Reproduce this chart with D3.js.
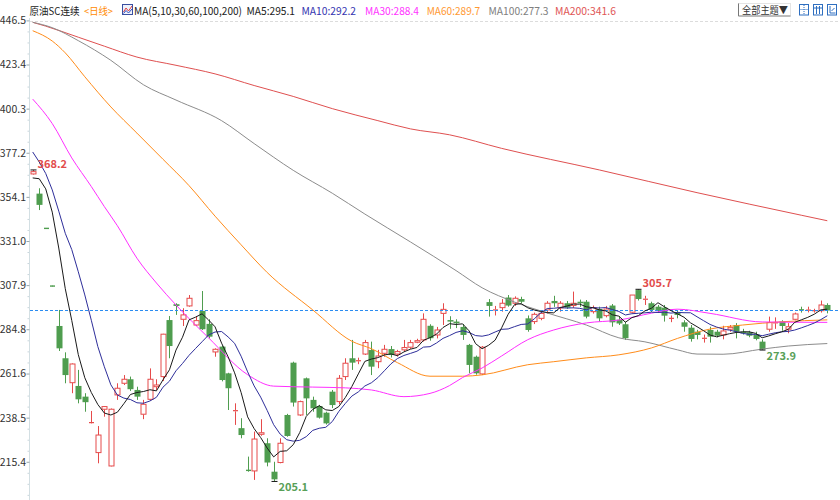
<!DOCTYPE html>
<html><head><meta charset="utf-8">
<script src="https://cdn.jsdelivr.net/npm/d3@7"></script>
<style>
body{margin:0;background:#fff}
svg{display:block;font-family:"Noto Sans CJK SC","Microsoft YaHei",sans-serif}
</style></head>
<body><svg id="c" width="840" height="500"></svg>
<script>
// ---------------- data ----------------
const opens = [366.1,355.8,337.8,307.6,286.5,269.6,256.8,255.1,249.5,235.6,
220.2,242.9,213.2,250.4,256.5,258.6,253.0,240.3,248.1,254.7,
260.0,289.6,297.9,290.0,297.0,287.0,294.4,287.6,272.9,275.7,
261.7,241.8,233.0,211.2,210.6,229.8,225.1,210.2,215.0,239.9,
267.3,239.9,259.1,247.8,244.6,241.1,252.1,246.9,260.0,269.6,
268.0,271.8,273.9,267.8,272.2,274.4,271.8,274.0,275.4,278.0,
279.2,286.6,281.8,293.1,289.6,288.8,286.0,276.6,270.4,261.4,
299.0,294.6,296.1,301.4,298.4,300.6,290.5,288.8,290.5,294.9,
299.6,296.0,298.4,297.2,299.2,299.2,294.0,295.4,291.9,297.2,
289.8,287.4,293.7,305.3,300.2,298.4,296.6,296.1,290.3,293.3,
288.4,285.6,283.5,279.8,284.4,283.5,281.8,284.8,287.0,283.5,
283.2,282.1,278.3,284.8,287.9,288.8,284.8,290.0,295.2,294.6,
294.3,294.5,297.5];
const highs = [368.2,358.6,337.8,307.6,294.9,272.7,266.9,263.5,251.3,242.0,
234.1,244.6,243.3,256.5,260.8,260.0,254.7,247.8,264.3,258.6,
282.4,291.7,298.4,295.8,302.7,291.7,304.8,290.0,274.8,276.2,
262.0,246.0,238.2,218.1,231.2,237.7,227.7,215.4,227.7,240.5,
267.8,247.4,259.5,249.5,245.2,241.6,253.0,260.8,269.6,279.2,
269.9,279.2,278.3,274.0,276.6,276.0,274.0,279.2,279.2,279.8,
293.1,287.4,286.0,298.4,291.6,290.0,287.5,277.1,271.0,276.0,
300.6,297.0,300.6,302.7,302.0,301.8,292.0,293.5,293.6,299.5,
302.3,299.5,299.6,304.5,300.3,300.1,297.2,296.6,297.0,298.0,
291.6,288.8,302.7,305.7,302.3,299.2,297.5,297.5,292.0,294.9,
289.5,287.0,284.5,282.0,286.1,284.5,286.6,287.0,288.0,285.0,
284.0,283.5,279.5,291.4,291.0,289.5,288.0,293.5,296.6,296.6,
295.5,299.8,298.4];
const lows = [365.8,347.2,337.4,307.2,273.4,256.5,251.3,246.0,241.6,235.4,
214.6,239.0,213.0,247.8,255.6,252.5,247.8,237.7,247.4,253.0,
257.7,269.6,292.3,286.5,296.6,286.5,284.4,280.0,270.4,257.5,
242.5,234.7,227.7,210.2,205.9,229.0,213.0,205.1,214.6,228.5,
244.3,239.4,239.9,241.6,238.0,234.9,243.5,245.5,258.2,263.5,
266.5,271.3,260.8,264.4,270.4,270.0,270.5,273.1,274.5,277.5,
278.3,278.8,280.0,287.0,285.0,285.4,279.2,261.7,261.0,260.8,
291.4,292.0,294.0,296.6,297.0,298.4,283.5,287.5,289.5,293.0,
296.5,294.0,295.5,296.0,296.5,290.5,293.0,288.8,291.0,286.1,
287.0,279.2,293.2,299.8,297.5,293.8,293.5,288.8,288.5,290.5,
283.5,278.3,279.5,277.8,277.8,280.5,279.5,283.5,280.0,282.0,
280.6,279.0,273.9,283.5,285.0,284.0,282.7,289.5,293.5,293.6,
293.5,293.5,293.1];
const closes = [367.3,349.9,337.4,307.2,274.8,260.8,266.6,248.1,246.6,236.2,
229.4,244.3,242.9,253.9,258.6,253.4,249.5,245.5,258.6,255.6,
282.2,276.0,297.0,292.3,301.0,289.3,284.8,280.9,274.3,258.2,
253.9,242.5,229.4,210.6,227.3,230.6,215.0,206.2,225.1,228.9,
246.4,246.9,248.6,243.4,238.5,235.5,245.1,259.1,267.0,267.3,
268.6,277.8,265.2,270.8,274.3,271.3,273.1,275.2,277.8,278.8,
290.0,280.1,284.4,295.2,288.8,287.9,281.8,266.1,261.7,275.4,
297.0,295.2,298.4,297.2,301.0,299.2,284.4,292.6,293.1,298.4,
298.4,298.4,296.1,298.4,298.4,291.4,296.1,290.5,295.4,288.4,
287.8,280.1,302.7,300.6,300.8,294.9,294.4,291.9,290.7,292.3,
286.1,279.7,281.8,280.3,280.9,281.4,283.9,285.8,283.5,282.7,
281.4,279.7,274.3,288.3,288.4,286.5,286.1,292.8,294.7,295.0,
294.7,297.5,294.6];
// closes of the 9 sessions before the first visible candle (estimated)
const prevCloses = [402,398,393,386,376.9,352,364,368,368.8];

// long moving averages: candle index -> value
const ma30Idx = [0,3,6,9,11,13,16,19,22,27,33,37,43,48,52,57,61,64,66,69,72,76,80,85,90,95,99,104,112,122];
const ma30Val = [405.3,392.5,374.5,359.5,349,339,322,309,297.5,280.3,261,255,254.5,254.1,253.0,249.5,251.2,255.3,259.5,264.5,270.8,279.3,284.4,288.1,289.6,293.2,295.3,293.1,288.6,288.4];
const ma60Idx = [0,3,5,8,12,16,20,24,28,32,36,43,49,52,56,61,66,69,76,80,85,90,95,99,104,109,115,122];
const ma60Val = [441.1,435.7,429.5,417,401.2,387.5,373.8,360,344,329,314.5,294.9,278.5,274.6,267.3,260.2,260.2,260.9,266.2,267.8,269.8,271.4,275.0,280.0,284.9,287.0,288.7,289.7];
const ma100Idx = [0,3,7,12,17,22,29,34,40,46,51,58,65,69,74,79,85,90,94,99,102,106,112,116,122];
const ma100Val = [445.5,442.7,435.9,425.6,412.8,404.8,394.0,382.0,368.0,356.0,345.1,330.5,315.5,306.5,299.0,293.3,287.0,280.3,278.2,274.0,271.8,271.7,274.4,276.0,277.3];
const ma200Idx = [0,2,7,11,16,22,28,34,40,46,53,58,64,72,87,102,118,122];
const ma200Val = [445.5,443.5,437.7,433.0,427.3,423.0,418.5,412.4,406.7,400.3,394.0,389.7,386.6,379.5,368.2,356.3,344.5,341.6];

const yTicks = [446.5,423.4,400.3,377.2,354.1,331.0,307.9,284.8,261.6,238.5,215.4];
const legendNames = ["MA5","MA10","MA30","MA60","MA100","MA200"];
const legendValues = [295.1,292.2,288.4,289.7,277.3,341.6];
const markIdx = [0,37,93,112];
const markType = ["high","low","high","low"];

// ---------------- drawing ----------------
const UP = "#e64a4a", DOWN = "#4f9d4f";
const maColors = ["#1a1a1a","#2e2e9a","#ff2eff","#ff8c1a","#8c8c8c","#df5050"];
const legendColors = ["#222","#3434b0","#ff33ff","#ff9933","#808080","#e05555"];

const svg = d3.select("#c");
const x = d3.scaleLinear().domain([0, closes.length - 1]).range([32.7, 827.3]);
const y = d3.scaleLinear().domain([198.0, 446.5]).range([495, 20.4]);

// top dashed border
svg.append("line").attr("x1",30).attr("x2",840).attr("y1",21.5).attr("y2",21.5)
  .attr("stroke","#dcdcdc").attr("stroke-dasharray","3,2");

// y axis
const minorTicks = [];
for (let k = 0; k < yTicks.length - 1; k++) {
  for (let q = 1; q < 4; q++) minorTicks.push(yTicks[k] + (yTicks[k+1]-yTicks[k]) * q / 4);
}
for (let q = 1; q < 4; q++) minorTicks.push(215.4 - 23.1 * q / 4);
const gMinor = svg.append("g").attr("transform","translate(29.5,0)")
  .call(d3.axisLeft(y).tickValues(minorTicks).tickSize(2).tickFormat(""));
gMinor.select(".domain").remove();
gMinor.selectAll("line").attr("stroke","#c9d6dc");
const gAxis = svg.append("g").attr("transform","translate(29.5,0)")
  .call(d3.axisLeft(y).tickValues(yTicks).tickSize(3).tickPadding(0.5).tickFormat(d3.format(".1f")));
gAxis.select(".domain").attr("stroke","#d3dfe3").attr("d","M0,18V500");
gAxis.selectAll("line").attr("stroke","#9aa8ad");
gAxis.selectAll("text").attr("fill","#333").style("font-size","10.5px")
  .style("font-family",'"Noto Sans CJK SC",sans-serif');

// candles
const bw = 5;
const gC = svg.append("g");
closes.forEach((c, i) => {
  const o = opens[i], h = highs[i], l = lows[i];
  const cx = Math.round(x(i)) + 0.5;
  const up = c >= o;
  const top = y(Math.max(o, c)), bot = y(Math.min(o, c));
  if (up) {
    if (y(h) < top) gC.append("line").attr("x1",cx).attr("x2",cx).attr("y1",y(h)).attr("y2",top).attr("stroke",UP);
    if (y(l) > bot) gC.append("line").attr("x1",cx).attr("x2",cx).attr("y1",bot).attr("y2",y(l)).attr("stroke",UP);
    if (bot - top < 1.5) {
      gC.append("line").attr("x1",cx-2.5).attr("x2",cx+2.5).attr("y1",(top+bot)/2).attr("y2",(top+bot)/2).attr("stroke",UP).attr("stroke-width",1.2);
    } else {
      gC.append("rect").attr("x",cx-2.5).attr("y",top).attr("width",bw).attr("height",bot-top)
        .attr("fill","#fff").attr("stroke",UP);
    }
  } else {
    gC.append("line").attr("x1",cx).attr("x2",cx).attr("y1",y(h)).attr("y2",y(l)).attr("stroke",DOWN);
    if (bot - top < 1.5) {
      gC.append("line").attr("x1",cx-2.5).attr("x2",cx+2.5).attr("y1",(top+bot)/2).attr("y2",(top+bot)/2).attr("stroke",DOWN).attr("stroke-width",1.4);
    } else {
      gC.append("rect").attr("x",cx-3).attr("y",top).attr("width",bw+1).attr("height",bot-top).attr("fill",DOWN);
    }
  }
});

// current price dashed line
svg.append("line").attr("x1",30).attr("x2",840)
  .attr("y1",y(closes[closes.length-1])).attr("y2",y(closes[closes.length-1]))
  .attr("stroke","#2b8cf0").attr("stroke-dasharray","3,2");

// moving averages
const allCloses = prevCloses.concat(closes);
function sma(n) {
  return closes.map((_, i) => {
    const j = i + prevCloses.length;
    return {i, v: d3.mean(allCloses.slice(j - n + 1, j + 1))};
  });
}
const zip = (idx, val) => idx.map((d, k) => ({i: d, v: val[k]}));
const lineLin = d3.line().x(d => x(d.i)).y(d => y(d.v));
const lineSm = d3.line().x(d => x(d.i)).y(d => y(d.v)).curve(d3.curveMonotoneX);
const series = [
  {d: zip(ma200Idx, ma200Val), c: maColors[5], gen: lineSm},
  {d: zip(ma100Idx, ma100Val), c: maColors[4], gen: lineSm},
  {d: zip(ma60Idx, ma60Val), c: maColors[3], gen: lineSm},
  {d: zip(ma30Idx, ma30Val), c: maColors[2], gen: lineSm},
  {d: sma(10), c: maColors[1], gen: lineLin},
  {d: sma(5), c: maColors[0], gen: lineLin}
];
series.forEach(s => {
  svg.append("path").attr("d", s.gen(s.d)).attr("fill","none")
    .attr("stroke", s.c).attr("stroke-width", 1);
});

// high / low marks
markIdx.forEach((i, k) => {
  const isHigh = markType[k] === "high";
  const v = isHigh ? highs[i] : lows[i];
  const cx = Math.round(x(i)) + 0.5, cy = y(v);
  svg.append("line").attr("x1",cx-3).attr("x2",cx+3).attr("y1",cy).attr("y2",cy).attr("stroke","#111");
  svg.append("text").attr("x", cx + 4).attr("y", isHigh ? cy - 2 : cy + 9.5)
    .attr("fill", isHigh ? "#e24c4c" : "#58a058")
    .style("font-size","11px").style("font-weight","bold")
    .text(d3.format(".1f")(v));
});

// header
const hdr = svg.append("g").style("font-size","11px");
function htext(tx, w, col, str, fs) {
  const t = hdr.append("text").attr("x",tx).attr("y",14.5).attr("fill",col)
    .attr("textLength",w).attr("lengthAdjust","spacingAndGlyphs").text(str);
  if (fs) t.style("font-size", fs);
}
htext(29.5, 50, "#222", "原油SC连续", "10px");
htext(84, 29, "#ff8a00", "<日线>", "10px");
// indicator icon
hdr.append("rect").attr("x",122.5).attr("y",4.5).attr("width",10).attr("height",10)
  .attr("fill","#eef2fb").attr("stroke","#3a4fa0");
hdr.append("polyline").attr("points","123.5,12 126,8 128.5,11 132,6").attr("fill","none").attr("stroke","#e04040");
hdr.append("polyline").attr("points","123.5,13.5 126,10.5 128.5,13 132,9").attr("fill","none").attr("stroke","#3050c0");
htext(134, 108, "#222", "MA(5,10,30,60,100,200)");
const legX = [246.5,301.5,365,426.7,488.5,555];
const legW = [48.5,54.5,54,53.5,60,61];
legendNames.forEach((n, k) => {
  htext(legX[k], legW[k], legendColors[k], n + ":" + d3.format(".1f")(legendValues[k]));
});
// theme button
hdr.append("rect").attr("x",738.5).attr("y",3.5).attr("width",52).attr("height",12.5).attr("fill","#fff").attr("stroke","#e4e4e4");
hdr.append("line").attr("x1",738.5).attr("x2",738.5).attr("y1",3.5).attr("y2",16).attr("stroke","#777");
hdr.append("line").attr("x1",738.5).attr("x2",790.5).attr("y1",16).attr("y2",16).attr("stroke","#888");
hdr.append("text").attr("x",742).attr("y",14).attr("fill","#333").style("font-size","10px")
  .attr("textLength",46).attr("lengthAdjust","spacingAndGlyphs").text("全部主题▼");
// small tool icons
[799.5, 813.5, 827.5].forEach((ix, k) => {
  hdr.append("rect").attr("x",ix).attr("y",4.5).attr("width",9).attr("height",10.5)
    .attr("fill","#fff").attr("stroke","#2f6fc0");
  if (k === 0) {
    hdr.append("path").attr("d",`M${ix+4.5},5V15M${ix},9.5H${ix+9}`).attr("stroke","#2f6fc0").attr("stroke-dasharray","1,1");
  } else if (k === 1) {
    hdr.append("path").attr("d",`M${ix+3},6V14M${ix+6},6V14M${ix},8H${ix+9}`).attr("stroke","#2f6fc0");
  } else {
    hdr.append("path").attr("d",`M${ix+2.5},6V13H${ix+8}M${ix+4},11L${ix+7},8`).attr("stroke","#2f6fc0").attr("fill","none");
  }
});
</script>
</body></html>
